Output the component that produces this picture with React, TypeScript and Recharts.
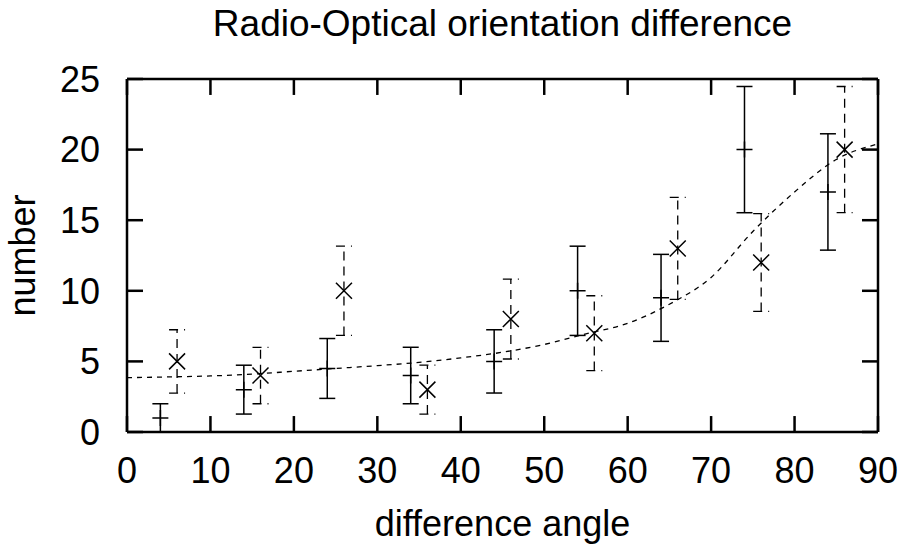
import {
  ComposedChart,
  ErrorBar,
  Line,
  ReferenceLine,
  Scatter,
  XAxis,
  YAxis,
} from "recharts";

// measured counts, first sample (plus markers, solid error bars)
const anglesA = [4, 14, 24, 34, 44, 54, 64, 74, 84];
const countsA = [1, 3, 4.5, 4, 5, 10, 9.5, 20, 17];
const errorsA = [1, 1.73, 2.12, 2, 2.24, 3.16, 3.08, 4.47, 4.12];

// second sample (cross markers, dashed error bars)
const anglesB = [6, 16, 26, 36, 46, 56, 66, 76, 86];
const countsB = [5, 4, 10, 3, 8, 7, 13, 12, 20];
const errorsB = [2.24, 2, 3.16, 1.73, 2.83, 2.65, 3.61, 3.46, 4.47];

// fitted curve
const fitAngles = [0, 5, 10, 15, 20, 25, 30, 35, 40, 45, 50, 55, 60, 65, 70, 75, 80, 85, 90];
const fitCounts = [3.85, 3.9, 3.97, 4.1, 4.3, 4.5, 4.7, 4.93, 5.25, 5.65, 6.2, 6.95, 7.7, 9.05, 10.95, 14.2, 17.0, 19.3, 20.4];

const xTicks = [0, 10, 20, 30, 40, 50, 60, 70, 80, 90];
const yTicks = [0, 5, 10, 15, 20, 25];

const title = "Radio-Optical orientation difference";
const xLabel = "difference angle";
const yLabel = "number";

const FONT = "'Liberation Sans', Arial, Helvetica, sans-serif";
const FS = 36;
const GAP = 10;
// inward tick length (~16px) in data units
const X_TICK_LEN = 1.13;
const Y_TICK_LEN = 1.92;

const seriesA = anglesA.map((x, i) => ({ x, y: countsA[i], err: errorsA[i] }));
const seriesB = anglesB.map((x, i) => ({ x, y: countsB[i], err: errorsB[i] }));
const fit = fitAngles.map((x, i) => ({ x, y: fitCounts[i] }));

const plusShape = (p: any) => (
  <path
    d={`M${p.cx - 8},${p.cy}h16M${p.cx},${p.cy - 8}v16`}
    stroke="#000"
    strokeWidth={1.5}
    fill="none"
  />
);

const crossShape = (p: any) => (
  <path
    d={`M${p.cx - 8},${p.cy - 8}l16,16M${p.cx - 8},${p.cy + 8}l16,-16`}
    stroke="#000"
    strokeWidth={1.5}
    fill="none"
  />
);

const frame = { stroke: "#000", strokeWidth: 2.5 };

const bottomTick = (p: any) => (
  <text x={p.x} y={p.y - GAP + 51} textAnchor="middle" fontSize={FS} fontFamily={FONT} fill="#000">
    {p.payload.value}
  </text>
);

const leftTick = (p: any) => (
  <text x={p.x + GAP - 27} y={p.y + 12.8} textAnchor="end" fontSize={FS} fontFamily={FONT} fill="#000">
    {p.payload.value}
  </text>
);

export default function App() {
  return (
    <div style={{ position: "absolute", left: 0, top: 0, width: 905, height: 548, background: "#fff" }}>
      <div
        style={{
          position: "absolute",
          left: 127,
          width: 751,
          top: 5,
          textAlign: "center",
          fontFamily: FONT,
          fontSize: 37,
          lineHeight: "37px",
          color: "#000",
        }}
      >
        {title}
      </div>
      <ComposedChart width={905} height={548} margin={{ top: 78, right: 26, bottom: 0, left: 0 }}>
        <XAxis
          xAxisId={0}
          dataKey="x"
          type="number"
          domain={[0, 90]}
          ticks={xTicks}
          interval={0}
          height={116}
          tickSize={0}
          tickMargin={GAP}
          tick={bottomTick}
          tickLine={false}
          axisLine={frame}
          label={{
            content: (p: any) => {
              const vb = p.viewBox;
              return (
                <text x={vb.x + vb.width / 2} y={536} textAnchor="middle" fontSize={FS} fontFamily={FONT} fill="#000">
                  {xLabel}
                </text>
              );
            },
          }}
        />
        <XAxis
          xAxisId="top"
          orientation="top"
          dataKey="x"
          type="number"
          domain={[0, 90]}
          ticks={xTicks}
          height={1}
          tick={false}
          tickLine={false}
          axisLine={frame}
        />
        <YAxis
          yAxisId={0}
          type="number"
          domain={[0, 25]}
          ticks={yTicks}
          interval={0}
          width={127}
          tickSize={0}
          tickMargin={GAP}
          tick={leftTick}
          tickLine={false}
          axisLine={frame}
          label={{
            content: (p: any) => {
              const vb = p.viewBox;
              const cx = 35;
              const cy = vb.y + vb.height / 2;
              return (
                <text
                  x={cx}
                  y={cy}
                  transform={`rotate(-90 ${cx} ${cy})`}
                  textAnchor="middle"
                  fontSize={FS}
                  fontFamily={FONT}
                  fill="#000"
                >
                  {yLabel}
                </text>
              );
            },
          }}
        />
        <YAxis
          yAxisId="right"
          orientation="right"
          type="number"
          domain={[0, 25]}
          ticks={yTicks}
          width={1}
          tick={false}
          tickLine={false}
          axisLine={frame}
        />
        {/* inward ticks on all four sides */}
        {xTicks.map((t) => (
          <ReferenceLine key={`b${t}`} segment={[{ x: t, y: 0 }, { x: t, y: X_TICK_LEN }]} {...frame} />
        ))}
        {xTicks.map((t) => (
          <ReferenceLine key={`t${t}`} segment={[{ x: t, y: 25 }, { x: t, y: 25 - X_TICK_LEN }]} {...frame} />
        ))}
        {yTicks.map((t) => (
          <ReferenceLine key={`l${t}`} segment={[{ x: 0, y: t }, { x: Y_TICK_LEN, y: t }]} {...frame} />
        ))}
        {yTicks.map((t) => (
          <ReferenceLine key={`r${t}`} segment={[{ x: 90, y: t }, { x: 90 - Y_TICK_LEN, y: t }]} {...frame} />
        ))}
        <Line
          data={fit}
          dataKey="y"
          type="monotone"
          stroke="#000"
          strokeWidth={1.3}
          strokeDasharray="5 5"
          dot={false}
          activeDot={false}
          isAnimationActive={false}
        />
        <Scatter data={seriesA} dataKey="y" shape={plusShape} isAnimationActive={false}>
          <ErrorBar dataKey="err" direction="y" width={8} stroke="#000" strokeWidth={1.5} isAnimationActive={false} />
        </Scatter>
        <Scatter data={seriesB} dataKey="y" shape={crossShape} isAnimationActive={false}>
          <ErrorBar
            dataKey="err"
            direction="y"
            width={8}
            stroke="#000"
            strokeWidth={1.3}
            strokeDasharray="9 6"
            isAnimationActive={false}
          />
        </Scatter>
      </ComposedChart>
    </div>
  );
}
